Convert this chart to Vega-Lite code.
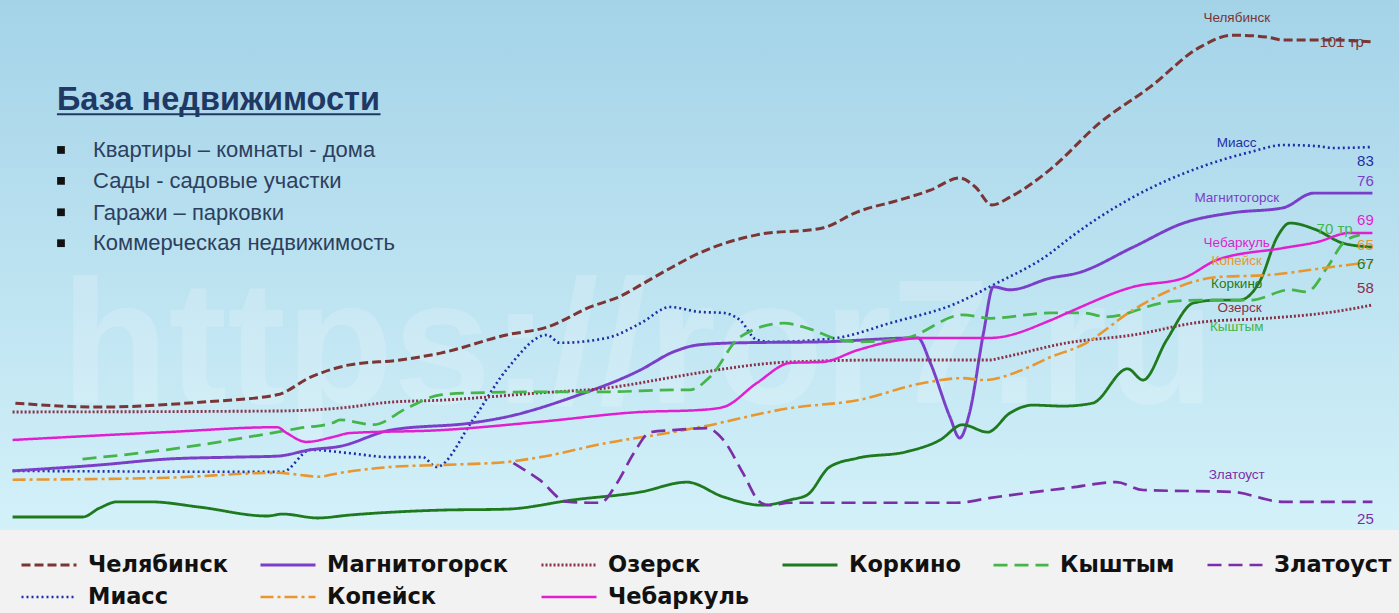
{
 "$schema": "https://vega.github.io/schema/vega-lite/v6.json",
 "width": 1399, "height": 530,
 "autosize": {"type": "none"},
 "padding": {"left": 0, "top": 0, "right": 0, "bottom": 83},
 "background": "#f2f2f2",
 "config": {
  "view": {"stroke": null},
  "font": "Liberation Sans",
  "legend": {
   "orient": "none", "legendX": 20, "legendY": 549, "direction": "horizontal", "columns": 6,
   "symbolType": "stroke", "symbolSize": 3025, "symbolStrokeWidth": 3,
   "labelFont": "DejaVu Sans", "labelFontSize": 22.5, "labelFontWeight": "bold", "labelColor": "#111111",
   "labelLimit": 0, "labelOffset": 10, "columnPadding": 31, "rowPadding": 0, "clipHeight": 32,
   "padding": 0, "title": null
  }
 },
 "datasets": {
  "lines": [
   {"city":"Челябинск","t":1.1,"v":26.6},{"city":"Челябинск","t":7.1,"v":25.8},{"city":"Челябинск","t":14.3,"v":26.8},{"city":"Челябинск","t":19.8,"v":28.3},{"city":"Челябинск","t":22.2,"v":31.9},{"city":"Челябинск","t":25.0,"v":34.4},{"city":"Челябинск","t":28.6,"v":35.4},{"city":"Челябинск","t":31.5,"v":36.8},{"city":"Челябинск","t":36.2,"v":40.5},{"city":"Челябинск","t":39.1,"v":42.1},{"city":"Челябинск","t":42.2,"v":46.2},{"city":"Челябинск","t":44.5,"v":48.6},{"city":"Челябинск","t":45.8,"v":50.7},{"city":"Челябинск","t":48.1,"v":54.4},{"city":"Челябинск","t":50.0,"v":57.2},{"city":"Челябинск","t":54.1,"v":60.9},{"city":"Челябинск","t":58.8,"v":62.3},{"city":"Челябинск","t":61.3,"v":65.6},{"city":"Челябинск","t":64.3,"v":68.0},{"city":"Челябинск","t":66.5,"v":70.0},{"city":"Челябинск","t":68.6,"v":72.5},{"city":"Челябинск","t":69.7,"v":70.7},{"city":"Челябинск","t":70.9,"v":67.0},{"city":"Челябинск","t":72.2,"v":68.6},{"city":"Челябинск","t":75.1,"v":74.3},{"city":"Челябинск","t":78.6,"v":83.7},{"city":"Челябинск","t":82.2,"v":91.0},{"city":"Челябинск","t":85.8,"v":99.2},{"city":"Челябинск","t":88.1,"v":101.6},{"city":"Челябинск","t":90.6,"v":101.2},{"city":"Челябинск","t":91.7,"v":100.6},{"city":"Челябинск","t":95.3,"v":100.6},{"city":"Челябинск","t":98.1,"v":100.2},
   {"city":"Миасс","t":0.9,"v":12.8},{"city":"Миасс","t":20.2,"v":12.6},{"city":"Миасс","t":22.2,"v":17.1},{"city":"Миасс","t":25.0,"v":16.4},{"city":"Миасс","t":27.9,"v":15.6},{"city":"Миасс","t":30.2,"v":15.6},{"city":"Миасс","t":31.2,"v":13.6},{"city":"Миасс","t":33.8,"v":23.2},{"city":"Миасс","t":36.2,"v":33.4},{"city":"Миасс","t":39.1,"v":40.5},{"city":"Миасс","t":40.0,"v":38.9},{"city":"Миасс","t":43.4,"v":39.9},{"city":"Миасс","t":45.8,"v":42.9},{"city":"Миасс","t":47.9,"v":46.2},{"city":"Миасс","t":50.0,"v":45.2},{"city":"Миасс","t":51.7,"v":45.0},{"city":"Миасс","t":52.9,"v":43.5},{"city":"Миасс","t":54.1,"v":39.5},{"city":"Миасс","t":55.3,"v":39.1},{"city":"Миасс","t":59.8,"v":39.9},{"city":"Миасс","t":63.6,"v":42.9},{"city":"Миасс","t":68.4,"v":47.0},{"city":"Миасс","t":71.0,"v":50.7},{"city":"Миасс","t":75.1,"v":57.2},{"city":"Миасс","t":76.3,"v":59.9},{"city":"Миасс","t":81.0,"v":68.6},{"city":"Миасс","t":85.8,"v":74.7},{"city":"Миасс","t":89.4,"v":77.8},{"city":"Миасс","t":91.7,"v":79.2},{"city":"Миасс","t":94.1,"v":79.0},{"city":"Миасс","t":95.3,"v":78.6},{"city":"Миасс","t":98.1,"v":78.8},
   {"city":"Магнитогорск","t":0.9,"v":12.8},{"city":"Магнитогорск","t":7.1,"v":14.0},{"city":"Магнитогорск","t":11.9,"v":15.2},{"city":"Магнитогорск","t":16.7,"v":15.6},{"city":"Магнитогорск","t":19.8,"v":15.8},{"city":"Магнитогорск","t":22.2,"v":17.1},{"city":"Магнитогорск","t":24.3,"v":17.8},{"city":"Магнитогорск","t":27.9,"v":21.1},{"city":"Магнитогорск","t":33.8,"v":22.6},{"city":"Магнитогорск","t":36.2,"v":23.8},{"city":"Магнитогорск","t":41.0,"v":27.9},{"city":"Магнитогорск","t":45.8,"v":33.4},{"city":"Магнитогорск","t":48.1,"v":37.0},{"city":"Магнитогорск","t":50.0,"v":38.5},{"city":"Магнитогорск","t":52.9,"v":38.9},{"city":"Магнитогорск","t":58.8,"v":39.1},{"city":"Магнитогорск","t":65.6,"v":39.9},{"city":"Магнитогорск","t":66.5,"v":34.8},{"city":"Магнитогорск","t":67.9,"v":23.8},{"city":"Магнитогорск","t":68.6,"v":19.5},{"city":"Магнитогорск","t":69.3,"v":24.6},{"city":"Магнитогорск","t":70.3,"v":40.9},{"city":"Магнитогорск","t":71.0,"v":50.3},{"city":"Магнитогорск","t":72.2,"v":49.7},{"city":"Магнитогорск","t":75.1,"v":52.1},{"city":"Магнитогорск","t":77.0,"v":53.1},{"city":"Магнитогорск","t":81.0,"v":58.4},{"city":"Магнитогорск","t":84.6,"v":63.3},{"city":"Магнитогорск","t":88.1,"v":65.4},{"city":"Магнитогорск","t":91.7,"v":66.4},{"city":"Магнитогорск","t":93.9,"v":69.4},{"city":"Магнитогорск","t":98.1,"v":69.4},
   {"city":"Озерск","t":0.9,"v":24.8},{"city":"Озерск","t":19.8,"v":25.0},{"city":"Озерск","t":24.3,"v":25.6},{"city":"Озерск","t":27.9,"v":26.8},{"city":"Озерск","t":31.5,"v":27.2},{"city":"Озерск","t":38.6,"v":28.7},{"city":"Озерск","t":43.4,"v":29.7},{"city":"Озерск","t":48.1,"v":31.9},{"city":"Озерск","t":50.0,"v":32.8},{"city":"Озерск","t":56.5,"v":35.0},{"city":"Озерск","t":63.6,"v":35.4},{"city":"Озерск","t":70.8,"v":35.4},{"city":"Озерск","t":71.5,"v":35.8},{"city":"Озерск","t":76.3,"v":38.9},{"city":"Озерск","t":81.0,"v":40.5},{"city":"Озерск","t":85.8,"v":43.1},{"city":"Озерск","t":90.6,"v":43.9},{"city":"Озерск","t":95.3,"v":45.2},{"city":"Озерск","t":98.1,"v":46.6},
   {"city":"Коркино","t":0.9,"v":3.4},{"city":"Коркино","t":5.9,"v":3.4},{"city":"Коркино","t":7.1,"v":5.2},{"city":"Коркино","t":8.4,"v":6.5},{"city":"Коркино","t":10.7,"v":6.5},{"city":"Коркино","t":14.3,"v":5.4},{"city":"Коркино","t":19.1,"v":3.6},{"city":"Коркино","t":20.2,"v":4.0},{"city":"Коркино","t":22.7,"v":3.2},{"city":"Коркино","t":25.0,"v":3.8},{"city":"Коркино","t":31.5,"v":4.8},{"city":"Коркино","t":36.2,"v":5.0},{"city":"Коркино","t":41.0,"v":6.9},{"city":"Коркино","t":45.8,"v":8.5},{"city":"Коркино","t":49.1,"v":10.5},{"city":"Коркино","t":51.7,"v":7.5},{"city":"Коркино","t":54.5,"v":5.8},{"city":"Коркино","t":56.5,"v":6.9},{"city":"Коркино","t":57.7,"v":7.9},{"city":"Коркино","t":59.3,"v":13.6},{"city":"Коркино","t":61.3,"v":15.4},{"city":"Коркино","t":64.8,"v":16.7},{"city":"Коркино","t":67.2,"v":19.1},{"city":"Коркино","t":68.8,"v":22.2},{"city":"Коркино","t":70.6,"v":20.7},{"city":"Коркино","t":72.2,"v":24.6},{"city":"Коркино","t":73.8,"v":26.2},{"city":"Коркино","t":76.0,"v":26.0},{"city":"Коркино","t":78.1,"v":26.6},{"city":"Коркино","t":80.6,"v":33.6},{"city":"Коркино","t":81.7,"v":31.3},{"city":"Коркино","t":83.4,"v":39.5},{"city":"Коркино","t":85.3,"v":47.0},{"city":"Коркино","t":87.0,"v":47.6},{"city":"Коркино","t":88.6,"v":47.6},{"city":"Коркино","t":90.1,"v":51.7},{"city":"Коркино","t":91.3,"v":60.5},{"city":"Коркино","t":92.2,"v":63.3},{"city":"Коркино","t":94.1,"v":61.9},{"city":"Коркино","t":96.0,"v":59.2},{"city":"Коркино","t":98.1,"v":58.4},
   {"city":"Кыштым","t":5.9,"v":15.2},{"city":"Кыштым","t":11.9,"v":17.1},{"city":"Кыштым","t":19.8,"v":20.7},{"city":"Кыштым","t":21.4,"v":21.5},{"city":"Кыштым","t":23.8,"v":22.6},{"city":"Кыштым","t":24.3,"v":23.2},{"city":"Кыштым","t":26.7,"v":22.2},{"city":"Кыштым","t":29.1,"v":25.6},{"city":"Кыштым","t":31.5,"v":28.3},{"city":"Кыштым","t":33.8,"v":28.7},{"city":"Кыштым","t":38.6,"v":28.9},{"city":"Кыштым","t":43.4,"v":28.9},{"city":"Кыштым","t":48.1,"v":29.3},{"city":"Кыштым","t":49.3,"v":29.3},{"city":"Кыштым","t":50.8,"v":32.1},{"city":"Кыштым","t":52.9,"v":40.1},{"city":"Кыштым","t":56.0,"v":42.9},{"city":"Кыштым","t":57.7,"v":41.9},{"city":"Кыштым","t":60.0,"v":39.5},{"city":"Кыштым","t":61.3,"v":39.1},{"city":"Кыштым","t":64.8,"v":39.9},{"city":"Кыштым","t":68.8,"v":44.6},{"city":"Кыштым","t":70.8,"v":43.9},{"city":"Кыштым","t":75.1,"v":45.0},{"city":"Кыштым","t":77.4,"v":45.0},{"city":"Кыштым","t":79.1,"v":44.2},{"city":"Кыштым","t":83.4,"v":47.2},{"city":"Кыштым","t":85.8,"v":47.6},{"city":"Кыштым","t":89.4,"v":47.6},{"city":"Кыштым","t":92.2,"v":49.7},{"city":"Кыштым","t":93.4,"v":49.3},{"city":"Кыштым","t":94.9,"v":54.4},{"city":"Кыштым","t":96.0,"v":59.2},{"city":"Кыштым","t":97.2,"v":60.9},
   {"city":"Копейск","t":0.9,"v":11.0},{"city":"Копейск","t":11.9,"v":11.4},{"city":"Копейск","t":19.8,"v":12.4},{"city":"Копейск","t":21.4,"v":12.0},{"city":"Копейск","t":22.7,"v":11.6},{"city":"Копейск","t":24.3,"v":12.4},{"city":"Копейск","t":27.9,"v":13.6},{"city":"Копейск","t":31.5,"v":14.0},{"city":"Копейск","t":36.2,"v":14.6},{"city":"Копейск","t":38.6,"v":15.6},{"city":"Копейск","t":43.4,"v":18.5},{"city":"Копейск","t":48.1,"v":20.7},{"city":"Копейск","t":50.0,"v":21.7},{"city":"Копейск","t":56.5,"v":25.6},{"city":"Копейск","t":61.3,"v":27.2},{"city":"Копейск","t":66.0,"v":30.7},{"city":"Копейск","t":68.8,"v":31.7},{"city":"Копейск","t":70.3,"v":31.3},{"city":"Копейск","t":73.1,"v":33.4},{"city":"Копейск","t":75.1,"v":36.0},{"city":"Копейск","t":77.4,"v":38.5},{"city":"Копейск","t":81.0,"v":45.6},{"city":"Копейск","t":83.4,"v":49.3},{"city":"Копейск","t":87.0,"v":52.3},{"city":"Копейск","t":90.6,"v":52.7},{"city":"Копейск","t":95.3,"v":54.4},{"city":"Копейск","t":98.1,"v":55.4},
   {"city":"Чебаркуль","t":0.9,"v":19.1},{"city":"Чебаркуль","t":11.9,"v":20.7},{"city":"Чебаркуль","t":19.8,"v":21.7},{"city":"Чебаркуль","t":20.5,"v":20.5},{"city":"Чебаркуль","t":21.9,"v":18.7},{"city":"Чебаркуль","t":23.8,"v":19.7},{"city":"Чебаркуль","t":25.0,"v":20.5},{"city":"Чебаркуль","t":31.5,"v":21.1},{"city":"Чебаркуль","t":38.6,"v":22.8},{"city":"Чебаркуль","t":45.8,"v":24.8},{"city":"Чебаркуль","t":50.0,"v":25.2},{"city":"Чебаркуль","t":51.7,"v":25.8},{"city":"Чебаркуль","t":54.1,"v":30.7},{"city":"Чебаркуль","t":56.5,"v":34.8},{"city":"Чебаркуль","t":58.8,"v":35.0},{"city":"Чебаркуль","t":61.3,"v":37.4},{"city":"Чебаркуль","t":63.6,"v":39.1},{"city":"Чебаркуль","t":66.0,"v":39.9},{"city":"Чебаркуль","t":70.8,"v":39.9},{"city":"Чебаркуль","t":75.1,"v":43.5},{"city":"Чебаркуль","t":76.3,"v":45.0},{"city":"Чебаркуль","t":81.0,"v":50.3},{"city":"Чебаркуль","t":84.6,"v":52.1},{"city":"Чебаркуль","t":87.0,"v":55.8},{"city":"Чебаркуль","t":91.7,"v":58.2},{"city":"Чебаркуль","t":94.1,"v":59.4},{"city":"Чебаркуль","t":96.5,"v":61.3},{"city":"Чебаркуль","t":98.1,"v":61.3},
   {"city":"Златоуст","t":36.7,"v":14.4},{"city":"Златоуст","t":38.6,"v":10.9},{"city":"Златоуст","t":40.5,"v":6.5},{"city":"Златоуст","t":42.2,"v":6.3},{"city":"Златоуст","t":42.9,"v":6.3},{"city":"Златоуст","t":44.1,"v":10.3},{"city":"Златоуст","t":45.3,"v":16.4},{"city":"Златоуст","t":46.5,"v":20.7},{"city":"Златоуст","t":48.1,"v":21.1},{"city":"Златоуст","t":50.5,"v":21.5},{"city":"Златоуст","t":51.7,"v":19.1},{"city":"Златоуст","t":53.1,"v":12.4},{"city":"Златоуст","t":54.3,"v":6.5},{"city":"Златоуст","t":55.0,"v":5.8},{"city":"Златоуст","t":56.5,"v":6.3},{"city":"Златоуст","t":68.4,"v":6.3},{"city":"Златоуст","t":70.8,"v":7.3},{"city":"Златоуст","t":75.1,"v":8.9},{"city":"Златоуст","t":76.3,"v":9.3},{"city":"Златоуст","t":79.8,"v":10.5},{"city":"Златоуст","t":81.7,"v":8.9},{"city":"Златоуст","t":88.1,"v":8.5},{"city":"Златоуст","t":91.7,"v":6.5},{"city":"Златоуст","t":98.1,"v":6.5}
  ],
  "names": [
   {"label":"Челябинск","city":"Челябинск","t":88.4,"v":105.1},{"label":"Миасс","city":"Миасс","t":88.4,"v":79.6},{"label":"Магнитогорск","city":"Магнитогорск","t":88.4,"v":68.4},{"label":"Чебаркуль","city":"Чебаркуль","t":88.4,"v":59.2},{"label":"Копейск","city":"Копейск","t":88.4,"v":55.5},{"label":"Коркино","city":"Коркино","t":88.4,"v":50.9},{"label":"Озерск","city":"Озерск","t":88.6,"v":46.0},{"label":"Кыштым","city":"Кыштым","t":88.4,"v":42.1},{"label":"Златоуст","city":"Златоуст","t":88.4,"v":12.0}
  ],
  "numbers": [
   {"label":"101 тр","city":"Челябинск","t":95.9,"v":100.2},{"label":"83","city":"Миасс","t":97.6,"v":75.9},{"label":"76","city":"Магнитогорск","t":97.6,"v":71.9},{"label":"69","city":"Чебаркуль","t":97.6,"v":63.9},{"label":"70 тр","city":"Кыштым","t":95.4,"v":62.1},{"label":"65","city":"Копейск","t":97.6,"v":58.8},{"label":"67","city":"Коркино","t":97.6,"v":54.9},{"label":"58","city":"Озерск","t":97.6,"v":50.1},{"label":"25","city":"Златоуст","t":97.6,"v":3.0}
  ],
  "bullets": [
   {"text":"Квартиры – комнаты - дома","t":6.65,"v":76.8,"bv":78.2},
   {"text":"Сады - садовые участки","t":6.65,"v":70.4,"bv":71.9},
   {"text":"Гаражи – парковки","t":6.65,"v":63.9,"bv":65.5},
   {"text":"Коммерческая недвижимость","t":6.65,"v":57.8,"bv":59.2}
  ]
 },
 "encoding": {
  "x": {"field": "t", "type": "quantitative", "scale": {"domain": [0, 100], "nice": false, "zero": false}, "axis": null},
  "y": {"field": "v", "type": "quantitative", "scale": {"domain": [0.75, 108.76], "nice": false, "zero": false}, "axis": null}
 },
 "layer": [
  {
   "data": {"values": [{"t": 0, "v": 0.75}]},
   "mark": {"type": "rect", "color": {"gradient": "linear", "x1": 0, "y1": 0, "x2": 0, "y2": 1, "stops": [{"offset": 0, "color": "#a4d3e8"}, {"offset": 1, "color": "#d3f1f9"}]}},
   "encoding": {"x2": {"datum": 100}, "y2": {"datum": 108.76}}
  },
  {
   "data": {"values": [{"v": 25}, {"v": 50}, {"v": 75}, {"v": 100}]},
   "mark": {"type": "rule", "color": "#8d9ca6", "strokeWidth": 1, "opacity": 0.8},
   "encoding": {"x": {"datum": 0, "type": "quantitative"}, "x2": {"datum": 98.6}}
  },
  {
   "data": {"values": [{"text": "https://ror7.ru", "t": 45.6, "v": 26.6}]},
   "mark": {"type": "text", "font": "Liberation Sans", "fontWeight": "bold", "fontSize": 176, "color": "#ffffff", "opacity": 0.18, "align": "center", "baseline": "alphabetic"},
   "encoding": {"text": {"field": "text"}}
  },
  {
   "data": {"name": "lines"},
   "mark": {"type": "line", "interpolate": "monotone"},
   "encoding": {
    "color": {"field": "city", "type": "nominal", "scale": {"domain": ["Челябинск","Магнитогорск","Озерск","Коркино","Кыштым","Златоуст","Миасс","Копейск","Чебаркуль"], "range": ["#7b3535","#7a3fc8","#8a3048","#1f7a1f","#44b548","#7a2fa8","#1f2fa8","#e8962e","#e01fd0"]}},
    "strokeDash": {"field": "city", "type": "nominal", "scale": {"domain": ["Челябинск","Магнитогорск","Озерск","Коркино","Кыштым","Златоуст","Миасс","Копейск","Чебаркуль"], "range": [[9,4],[1,0],[2,2],[1,0],[14,7],[14,7],[2,3],[13,4,3,4],[1,0]]}},
    "strokeWidth": {"field": "city", "type": "nominal", "scale": {"domain": ["Челябинск","Магнитогорск","Озерск","Коркино","Кыштым","Златоуст","Миасс","Копейск","Чебаркуль"], "range": [3,2.5,2.5,4,4.5,4.5,3,4,2.5]}}
   }
  },
  {
   "data": {"name": "names"},
   "mark": {"type": "text", "font": "Liberation Sans", "fontSize": 13.5, "align": "center", "baseline": "middle"},
   "encoding": {"text": {"field": "label"}, "color": {"field": "city", "type": "nominal"}}
  },
  {
   "data": {"name": "numbers"},
   "mark": {"type": "text", "font": "Liberation Sans", "fontSize": 15, "align": "center", "baseline": "middle"},
   "encoding": {"text": {"field": "label"}, "color": {"field": "city", "type": "nominal"}}
  },
  {
   "data": {"values": [{"text": "База недвижимости", "t": 4.07, "v": 86.3}]},
   "mark": {"type": "text", "font": "Liberation Sans", "fontWeight": "bold", "fontSize": 32.5, "color": "#1f3864", "align": "left", "baseline": "alphabetic"},
   "encoding": {"text": {"field": "text"}}
  },
  {
   "data": {"values": [{"t": 4.07, "v": 85.5}]},
   "mark": {"type": "rule", "color": "#1f3864", "strokeWidth": 2},
   "encoding": {"x2": {"datum": 27.2}}
  },
  {
   "data": {"name": "bullets"},
   "mark": {"type": "square", "size": 60, "filled": true, "color": "#111111", "opacity": 1},
   "encoding": {"x": {"datum": 4.36, "type": "quantitative"}, "y": {"field": "bv", "type": "quantitative"}}
  },
  {
   "data": {"name": "bullets"},
   "mark": {"type": "text", "font": "Liberation Sans", "fontSize": 22, "color": "#2d3f5e", "align": "left", "baseline": "alphabetic"},
   "encoding": {"text": {"field": "text"}}
  }
 ]
}
